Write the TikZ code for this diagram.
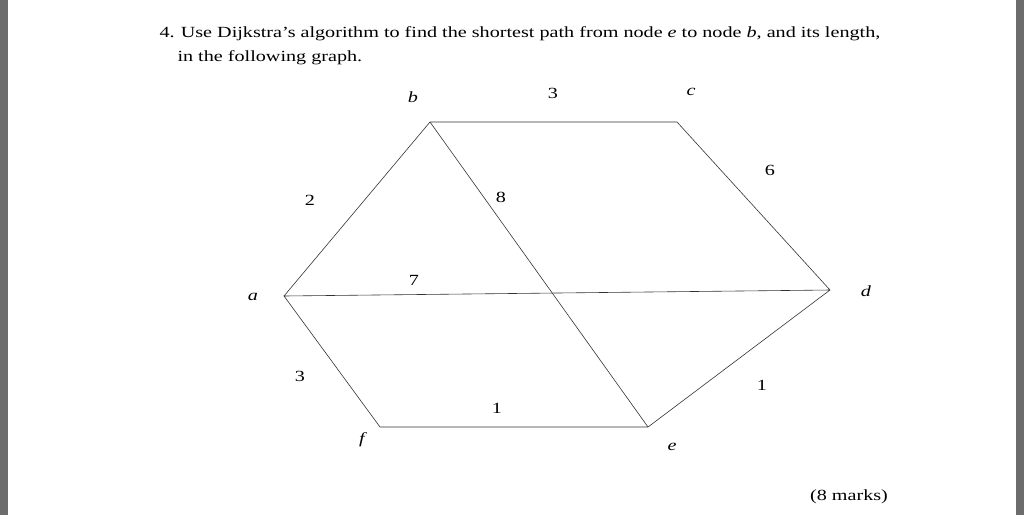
\documentclass[tikz,border=0pt]{standalone}
\usepackage{fontspec}
\setmainfont{Liberation Serif}[FakeStretch=1.3]
\begin{document}
\begin{tikzpicture}[x=1pt,y=-1pt,
  edge/.style={draw=black!80,line width=0.6pt},
  lab/.style={font=\fontsize{15.5}{18}\selectfont},
  vl/.style={font=\fontsize{15.5}{18}\selectfont\itshape}]
\useasboundingbox (0,0) rectangle (1024,515);
\fill[gray!85!black] (0,0) rectangle (8,515);
\fill[gray!85!black] (1016,0) rectangle (1024,515);
\coordinate (b) at (430,122);
\coordinate (c) at (677,122);
\coordinate (d) at (830,290);
\coordinate (e) at (648,427);
\coordinate (f) at (380,427);
\coordinate (a) at (284,296);
\draw[edge] (a) -- (b) -- (c) -- (d) -- (e) -- (f) -- (a) -- (d);
\draw[edge] (b) -- (e);
\node[vl] (lb) at (413,97) {b};
\node[vl] (lc) at (691,92) {c};
\node[vl] (ld) at (866,291) {d};
\node[vl] (le) at (672,447) {e};
\node[vl] (lf) at (362,440) {f};
\node[vl] (la) at (253,297) {a};
\node[lab] (w1) at (553,93) {3};
\node[lab] (w2) at (770,170) {6};
\node[lab] (w3) at (310,200) {2};
\node[lab] (w4) at (501,197) {8};
\node[lab] (w5) at (414,280) {7};
\node[lab] (w6) at (300,376) {3};
\node[lab] (w7) at (497,408) {1};
\node[lab] (w8) at (762,385) {1};
\node[lab,anchor=west] (t1) at (156,34) {4.\hspace{0.4em}Use Dijkstra's algorithm to find the shortest path from node \textit{e} to node \textit{b}, and its length,};
\node[lab,anchor=west] (t2) at (174,58) {in the following graph.};
\node[lab] (m) at (849,497) {(8 marks)};
\end{tikzpicture}
\end{document}
